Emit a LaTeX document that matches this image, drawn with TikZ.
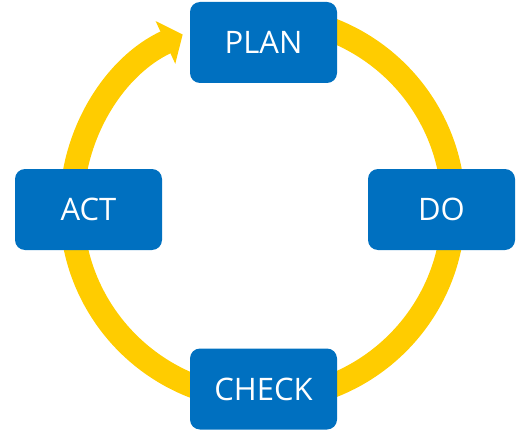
\documentclass[tikz,border=0pt]{standalone}
\usepackage{fontspec}
\setsansfont{Open Sans}
\usepackage{xcolor}
\usepackage{tikz}
\usetikzlibrary{arrows.meta}
\definecolor{pdcablue}{RGB}{0,112,192}
\definecolor{pdcagold}{RGB}{255,204,0}
\tikzset{
  pbox/.style={fill=pdcablue, rounded corners=10pt, inner sep=0pt, minimum width=147pt, minimum height=81pt, text=white, font=\sffamily\fontsize{31}{36}\selectfont},
  pring/.style={draw=pdcagold, line width=24pt},
  parr/.style={pring, -{Triangle[width=46pt,length=19pt]}}
}

\begin{document}
\begin{tikzpicture}[x=1pt,y=1pt]
\useasboundingbox (0,0) rectangle (530,432);
\coordinate (mid) at (262.5,224);
% ring behind the boxes
\draw[pring] (mid) ++(90:191) arc[start angle=90, end angle=0, radius=191];
\draw[pring] (mid) ++(0:191) arc[start angle=0, end angle=-90, radius=191];
\draw[pring] (mid) ++(-90:191) arc[start angle=-90, end angle=-180, radius=191];
\draw[parr] (mid) ++(180:191) arc[start angle=180, end angle=114.7, radius=191];
% the four steps
\node[pbox] (plan) at (263.5,389.5) {PLAN};
\node[pbox] (do) at (441.5,222.5) {DO};
\node[pbox] (check) at (263.5,43) {CHECK};
\node[pbox] (act) at (88.5,222.5) {ACT};
\end{tikzpicture}
\end{document}
